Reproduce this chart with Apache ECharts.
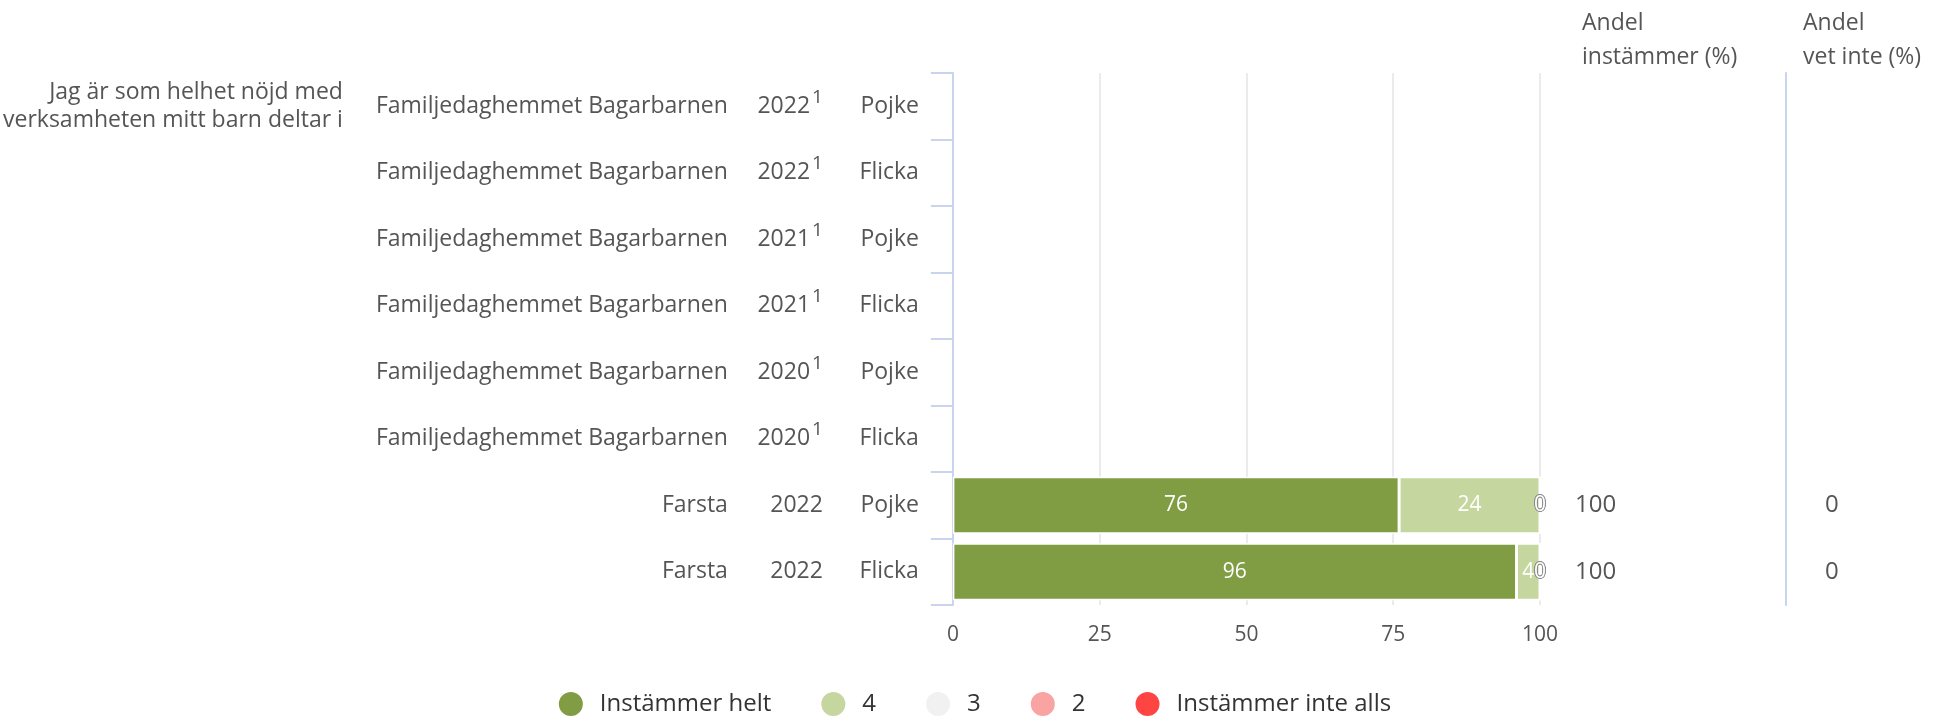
<!DOCTYPE html>
<html>
<head>
<meta charset="utf-8">
<script src="https://cdn.jsdelivr.net/npm/echarts@6/dist/echarts.min.js"></script>
<style>
  html, body { margin: 0; padding: 0; background: #fff; }
  #main { width: 1948px; height: 726px; }
</style>
</head>
<body>
<div id="main"></div>
<script>
// rader i diagrammet (uppifrån och ner)
var enheter = ['Familjedaghemmet Bagarbarnen', 'Familjedaghemmet Bagarbarnen', 'Familjedaghemmet Bagarbarnen',
  'Familjedaghemmet Bagarbarnen', 'Familjedaghemmet Bagarbarnen', 'Familjedaghemmet Bagarbarnen', 'Farsta', 'Farsta'];
var ar = ['2022', '2022', '2021', '2021', '2020', '2020', '2022', '2022'];
var fotnot = ['1', '1', '1', '1', '1', '1', '', ''];
var kon = ['Pojke', 'Flicka', 'Pojke', 'Flicka', 'Pojke', 'Flicka', 'Pojke', 'Flicka'];
var fraga = 'Jag är som helhet nöjd med\nverksamheten mitt barn deltar i';

var serieNamn = ['Instämmer helt', '4', '3', '2', 'Instämmer inte alls'];
var serieFarg = ['#819d44', '#c5d79e', '#f1f1f1', '#f9a3a3', '#ff4444'];
var instammerHelt = [null, null, null, null, null, null, 76, 96];
var fyra = [null, null, null, null, null, null, 24, 4];
var tre = [null, null, null, null, null, null, 0, 0];
var tva = [null, null, null, null, null, null, 0, 0];
var instammerInte = [null, null, null, null, null, null, 0, 0];
var andelInstammer = ['', '', '', '', '', '', '100', '100'];
var andelVetInte = ['', '', '', '', '', '', '0', '0'];

var xTicks = [0, 25, 50, 75, 100];

var rader = kon.map(function (k, i) { return 'r' + i; });
var serieData = [instammerHelt, fyra, tre, tva, instammerInte];

var FONT = 'Open Sans';
var grey = '#555';
var blue = '#c9d5ee';

function radAxel(extra) {
  var base = {
    type: 'category',
    data: rader,
    inverse: true,
    gridIndex: 0,
    axisLine: { show: false },
    axisTick: { show: false },
    splitLine: { show: false },
    axisLabel: { color: grey, fontSize: 23, fontFamily: FONT }
  };
  for (var k in extra) {
    if (k === 'axisLabel') {
      for (var j in extra.axisLabel) base.axisLabel[j] = extra.axisLabel[j];
    } else base[k] = extra[k];
  }
  return base;
}

var myChart = echarts.init(document.getElementById('main'));

var option = {
  backgroundColor: '#fff',
  animation: false,
  title: [
    { text: 'Andel\ninstämmer (%)', left: 1577, top: 1,
      textStyle: { color: grey, fontSize: 23, fontWeight: 'normal', fontFamily: FONT, lineHeight: 34 } },
    { text: 'Andel\nvet inte (%)', left: 1798, top: 1,
      textStyle: { color: grey, fontSize: 23, fontWeight: 'normal', fontFamily: FONT, lineHeight: 34 } }
  ],
  legend: {
    bottom: 3,
    left: 'center',
    icon: 'circle',
    itemWidth: 48,
    itemHeight: 26,
    itemGap: 48,
    textStyle: { color: '#333', fontSize: 24, fontFamily: FONT },
    data: serieNamn
  },
  grid: { left: 952, right: 408, top: 73, bottom: 121, containLabel: false },
  xAxis: {
    type: 'value',
    min: 0,
    max: 100,
    interval: 25,
    axisLine: { show: false },
    axisTick: { show: false },
    splitLine: { show: true, lineStyle: { color: '#e4e4e8', width: 1.5 } },
    axisLabel: { color: grey, fontSize: 21, fontFamily: FONT, margin: 20,
      formatter: function (v) { return xTicks.indexOf(v) >= 0 ? String(v) : ''; } }
  },
  yAxis: [
    // kön + axellinje
    radAxel({
      position: 'left',
      axisLine: { show: true, lineStyle: { color: blue, width: 2 } },
      axisTick: { show: true, length: 22, lineStyle: { color: blue, width: 2 } },
      axisLabel: { margin: 34, formatter: function (v, i) { return kon[i]; } }
    }),
    // år med fotnot
    radAxel({
      position: 'left',
      axisLabel: {
        margin: 130,
        formatter: function (v, i) {
          return fotnot[i] ? '{y|' + ar[i] + '}{s|' + fotnot[i] + '}' : '{y|' + ar[i] + '}';
        },
        rich: {
          y: { color: grey, fontSize: 23, fontFamily: FONT },
          s: { color: grey, fontSize: 19, fontFamily: FONT, padding: [0, 0, 18, 2] }
        }
      }
    }),
    // enhet
    radAxel({
      position: 'left',
      axisLabel: { margin: 225, formatter: function (v, i) { return enheter[i]; } }
    }),
    // frågetext
    radAxel({
      position: 'left',
      axisLabel: { margin: 610, lineHeight: 28, align: 'right', fontSize: 23,
        formatter: function (v, i) { return i === 0 ? fraga : ''; } }
    }),
    // andel instämmer
    radAxel({
      position: 'right',
      axisLabel: { margin: 35, fontSize: 24, formatter: function (v, i) { return andelInstammer[i]; } }
    }),
    // andel vet inte
    radAxel({
      position: 'right',
      offset: 246,
      axisLine: { show: true, lineStyle: { color: blue, width: 2 } },
      axisLabel: { margin: 39, fontSize: 24, formatter: function (v, i) { return andelVetInte[i]; } }
    })
  ],
  series: serieNamn.map(function (namn, si) {
    return {
      name: namn,
      type: 'bar',
      stack: 'svar',
      xAxisIndex: 0,
      yAxisIndex: 0,
      barCategoryGap: '14%',
      itemStyle: { color: serieFarg[si], borderColor: '#fff', borderWidth: 1.5 },
      label: {
        show: true,
        position: 'inside',
        fontSize: 21,
        fontFamily: FONT,
        color: '#fff',
        textBorderColor: si >= 2 ? '#888' : 'transparent',
        textBorderWidth: si >= 2 ? 1.5 : 0,
        formatter: function (p) { return p.value == null ? '' : String(p.value); }
      },
      data: serieData[si]
    };
  })
};

myChart.setOption(option);
</script>
</body>
</html>
